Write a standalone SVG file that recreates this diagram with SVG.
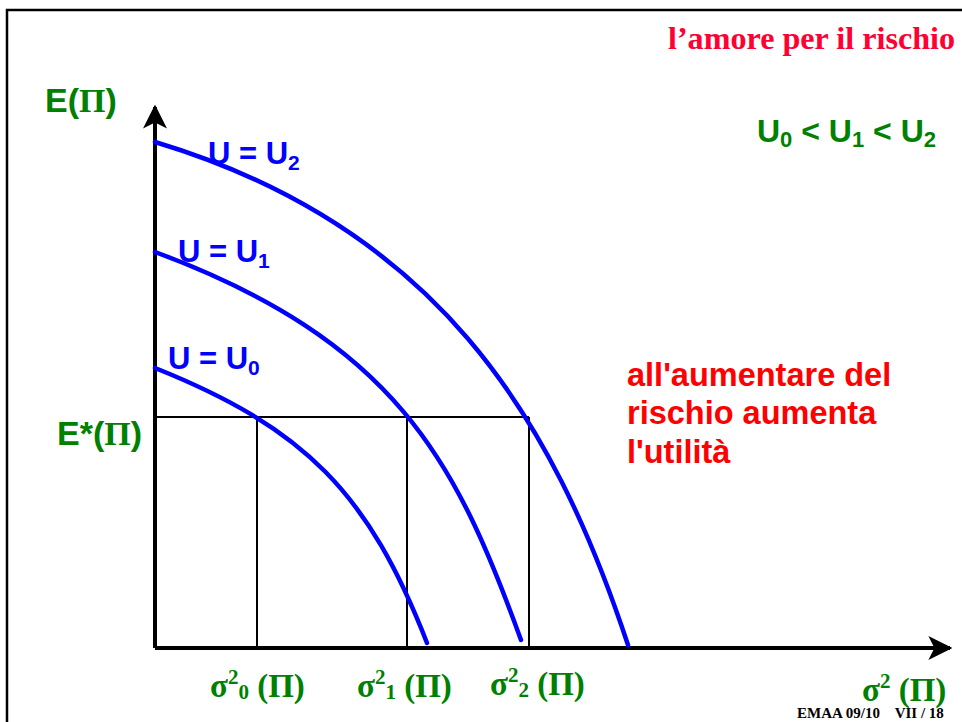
<svg xmlns="http://www.w3.org/2000/svg" width="962" height="722" viewBox="0 0 962 722">
<style>
.frame{fill:none;stroke:#000;stroke-width:2.5}
.axis{stroke:#000;stroke-width:4;fill:none}
.grid{stroke:#000;stroke-width:2;fill:none}
.curve{stroke:#0000ff;stroke-width:4.5;fill:none;stroke-linecap:round}
.green{fill:#008000;font-family:"Liberation Sans",Arial,sans-serif;font-weight:bold}
.gserif{fill:#008000;font-family:"Liberation Serif","Times New Roman",serif;font-weight:bold}
.blue{fill:#0000ff;font-family:"Liberation Sans",Arial,sans-serif;font-weight:bold;font-size:31px}
.red{fill:#ff0000;font-family:"Liberation Sans",Arial,sans-serif;font-weight:bold;font-size:32.5px}
.title{fill:#ff0033;font-family:"Liberation Serif","Times New Roman",serif;font-weight:bold;font-size:32px}
.foot{fill:#000;font-family:"Liberation Serif","Times New Roman",serif;font-weight:bold;font-size:15px}
</style>
<defs>
<marker id="arr" viewBox="0 0 20 20" refX="18" refY="10" markerWidth="6" markerHeight="6" orient="auto" markerUnits="strokeWidth">
<path d="M0,0 L20,10 L0,20 L5,10 Z" fill="#000"/>
</marker>
</defs>
<rect width="962" height="722" fill="#fff"/>
<path class="frame" d="M7,730 L7,10 L970,10"/>
<g id="title"><text class="title" x="955" y="49" text-anchor="end" textLength="287" lengthAdjust="spacingAndGlyphs">l’amore per il rischio</text></g>
<g id="connectors">
<line class="axis" x1="155" y1="648" x2="155" y2="107" marker-end="url(#arr)"/>
<line class="axis" x1="155" y1="648" x2="950" y2="648" marker-end="url(#arr)"/>
<path class="grid" d="M155,417 H529 M257,417 V648 M407,417 V648 M529,417 V648"/>
</g>
<g id="U2"><path class="curve" d="M155,142 C435,226 552,415 628,645"/>
<text class="blue" x="208" y="164">U = U<tspan font-size="21" dy="6">2</tspan></text></g>
<g id="U1"><path class="curve" d="M155,252 C395,341 456,460 521,640"/>
<text class="blue" x="178" y="262">U = U<tspan font-size="21" dy="6">1</tspan></text></g>
<g id="U0"><path class="curve" d="M155,368 C305,428 368.5,493 427,643"/>
<text class="blue" x="168" y="369">U = U<tspan font-size="21" dy="6">0</tspan></text></g>
<g id="ylabel"><text class="green" x="45" y="112" font-size="34">E(<tspan class="gserif">Π</tspan>)</text></g>
<g id="estar"><text class="green" x="57" y="445" font-size="34">E*(<tspan class="gserif">Π</tspan>)</text></g>
<g id="order"><text class="green" x="757" y="142" font-size="32">U<tspan font-size="22" dy="5">0</tspan><tspan dy="-5"> &lt; U</tspan><tspan font-size="22" dy="5">1</tspan><tspan dy="-5"> &lt; U</tspan><tspan font-size="22" dy="5">2</tspan></text></g>
<g id="note"><text class="red" x="627" y="386">all'aumentare del</text>
<text class="red" x="627" y="424">rischio aumenta</text>
<text class="red" x="627" y="463">l'utilità</text></g>
<g id="s0"><text class="gserif" x="210" y="697" font-size="33">σ<tspan font-size="21" dy="-13">2</tspan><tspan font-size="21" dy="15">0</tspan><tspan dy="-2"> (Π)</tspan></text></g>
<g id="s1"><text class="gserif" x="357" y="697" font-size="33">σ<tspan font-size="21" dy="-13">2</tspan><tspan font-size="21" dy="15">1</tspan><tspan dy="-2"> (Π)</tspan></text></g>
<g id="s2"><text class="gserif" x="490" y="695" font-size="33">σ<tspan font-size="21" dy="-13">2</tspan><tspan font-size="21" dy="15">2</tspan><tspan dy="-2"> (Π)</tspan></text></g>
<g id="xlabel"><text class="gserif" x="862" y="701" font-size="33">σ<tspan font-size="21" dy="-13">2</tspan><tspan dy="13"> (Π)</tspan></text></g>
<g id="footer"><text class="foot" x="797" y="718" xml:space="preserve">EMAA 09/10    VII / 18</text></g>
</svg>
